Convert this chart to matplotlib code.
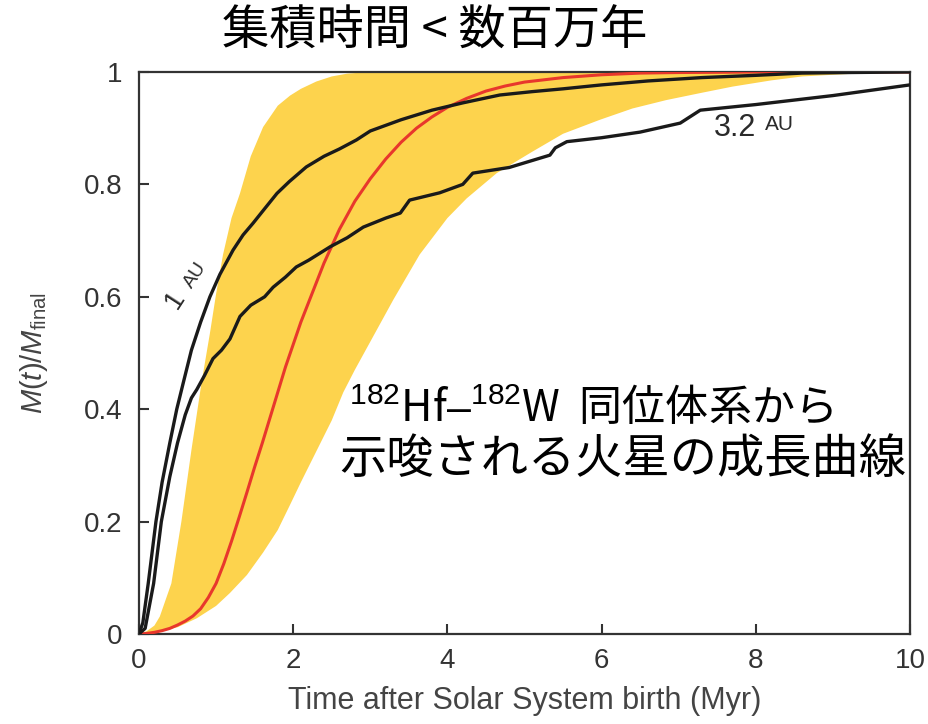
import numpy as np
import matplotlib
matplotlib.use("Agg")
import matplotlib.pyplot as plt

plt.rcParams["mathtext.fontset"] = "custom"
plt.rcParams["mathtext.rm"] = "Liberation Sans"
plt.rcParams["mathtext.it"] = "Liberation Sans:italic"

# median growth curve (red) from 182Hf-182W
red_x = [0, 0.1, 0.2, 0.3, 0.4, 0.5, 0.6, 0.7, 0.8, 0.9, 1.0, 1.1, 1.2, 1.3, 1.4,
         1.5, 1.6, 1.7, 1.8, 1.9, 2.0, 2.1, 2.2, 2.3, 2.4, 2.5, 2.6, 2.7, 2.8, 2.9,
         3.0, 3.2, 3.4, 3.6, 3.8, 4.0, 4.25, 4.5, 4.75, 5.0, 5.5, 6.0, 6.5, 7.0, 8.0, 10.0]
red_y = [0, 0.001, 0.003, 0.006, 0.01, 0.016, 0.023, 0.032, 0.045, 0.065, 0.09,
         0.125, 0.165, 0.208, 0.252, 0.297, 0.34, 0.385, 0.43, 0.475, 0.515, 0.555,
         0.59, 0.625, 0.66, 0.69, 0.72, 0.745, 0.77, 0.79, 0.81, 0.845, 0.875, 0.9,
         0.92, 0.937, 0.953, 0.966, 0.975, 0.982, 0.99, 0.995, 0.998, 0.999, 1.0, 1.0]

# yellow band edges
upper_x = [0, 0.1, 0.2, 0.27, 0.42, 0.55, 0.68, 0.81, 0.92, 1.0, 1.09, 1.2, 1.31,
           1.45, 1.61, 1.8, 1.96, 2.1, 2.3, 2.5, 2.7, 3.0, 10]
upper_y = [0, 0.005, 0.015, 0.031, 0.09, 0.2, 0.327, 0.446, 0.535, 0.605, 0.675,
           0.74, 0.784, 0.85, 0.902, 0.94, 0.958, 0.97, 0.983, 0.992, 0.997, 1.0, 1.0]
lower_x = [0, 0.14, 0.5, 0.75, 1.0, 1.18, 1.4, 1.61, 1.8, 1.96, 2.1, 2.3, 2.5, 2.65,
           2.8, 3.0, 3.3, 3.64, 4.0, 4.25, 4.64, 5.1, 5.5, 5.98, 6.4, 6.84, 7.3, 7.7,
           8.2, 8.6, 9.0, 9.44, 10]
lower_y = [0, 0.002, 0.012, 0.028, 0.05, 0.073, 0.105, 0.145, 0.185, 0.23, 0.27,
           0.325, 0.38, 0.43, 0.47, 0.52, 0.595, 0.675, 0.74, 0.775, 0.82, 0.858,
           0.89, 0.915, 0.935, 0.95, 0.963, 0.974, 0.985, 0.992, 0.995, 0.998, 1.0]

# simulated embryo growth, 1 AU
au1_x = [0, 0.05, 0.12, 0.22, 0.3, 0.4, 0.49, 0.58, 0.68, 0.8, 0.92, 1.05, 1.22,
         1.35, 1.48, 1.62, 1.79, 1.95, 2.17, 2.4, 2.6, 2.82, 3.0, 3.4, 3.8, 4.2,
         4.68, 5.1, 5.5, 6.0, 6.6, 7.3, 8.0, 8.6, 9.2, 10]
au1_y = [0, 0.02, 0.09, 0.2, 0.27, 0.34, 0.4, 0.45, 0.505, 0.555, 0.6, 0.64, 0.683,
         0.71, 0.731, 0.755, 0.784, 0.805, 0.831, 0.85, 0.863, 0.879, 0.895, 0.915,
         0.932, 0.945, 0.959, 0.965, 0.97, 0.977, 0.984, 0.99, 0.994, 0.998, 0.999, 1.0]

# simulated embryo growth, 3.2 AU
au32_x = [0, 0.08, 0.19, 0.29, 0.4, 0.5, 0.6, 0.68, 0.75, 0.85, 0.96, 1.07, 1.18,
          1.31, 1.45, 1.63, 1.74, 1.9, 2.04, 2.2, 2.48, 2.7, 2.91, 3.2, 3.39, 3.51,
          3.9, 4.2, 4.33, 4.8, 5.33, 5.4, 5.55, 6.0, 6.5, 7.02, 7.28, 8.0, 9.0, 10]
au32_y = [0, 0.01, 0.09, 0.2, 0.28, 0.34, 0.39, 0.42, 0.435, 0.46, 0.49, 0.505,
          0.525, 0.565, 0.585, 0.6, 0.617, 0.635, 0.653, 0.665, 0.689, 0.705, 0.724,
          0.74, 0.749, 0.772, 0.785, 0.80, 0.82, 0.83, 0.852, 0.865, 0.876, 0.883,
          0.893, 0.909, 0.932, 0.942, 0.958, 0.977]

xticks = [0, 2, 4, 6, 8, 10]
yticks = [0, 0.2, 0.4, 0.6, 0.8, 1]
ytick_labels = ["0", "0.2", "0.4", "0.6", "0.8", "1"]

cjk = ["Noto Sans CJK JP", "DejaVu Sans"]

fig = plt.figure(figsize=(9.29, 7.24), dpi=100)
ax = fig.add_axes([0.1496, 0.1243, 0.8299, 0.7763])

band_x = np.concatenate([upper_x, lower_x[::-1]])
band_y = np.concatenate([upper_y, lower_y[::-1]])
ax.fill(band_x, band_y, color="#fdd34d", lw=0, zorder=1)
ax.plot(red_x, red_y, color="#e8372c", lw=2.2, zorder=3)
ax.plot(au1_x, au1_y, color="#1a1a1a", lw=2.4, zorder=4)
ax.plot(au32_x, au32_y, color="#1a1a1a", lw=2.4, zorder=4)

ax.set_xlim(0, 10)
ax.set_ylim(0, 1)
ax.set_xticks(xticks)
ax.set_xticklabels([str(t) for t in xticks])
ax.set_yticks(yticks)
ax.set_yticklabels(ytick_labels)
ax.tick_params(direction="in", length=7, width=1.5, colors="#333333",
               labelsize=20)
ax.tick_params(axis="x", pad=10)
ax.tick_params(axis="y", pad=12)
for lab in ax.get_xticklabels() + ax.get_yticklabels():
    lab.set_family("Liberation Sans")
for sp in ax.spines.values():
    sp.set_linewidth(1.6)
    sp.set_color("#333333")

ax.set_xlabel("Time after Solar System birth (Myr)", family="Liberation Sans",
              fontsize=22, color="#444444", labelpad=9)
ax.set_ylabel(r"$M(t)/M_{\mathrm{final}}$", fontsize=21, color="#444444",
              labelpad=24)

# curve labels
ax.text(0.47, 0.594, "1", rotation=57, fontsize=20, color="#2a2a2a",
        family="Liberation Sans", ha="center", va="center")
ax.text(0.73, 0.638, "AU", rotation=57, fontsize=14, color="#2a2a2a",
        family="Liberation Sans", ha="center", va="center")
ax.text(7.45, 0.9, "3.2", fontsize=22, color="#2a2a2a",
        family="Liberation Sans", ha="left", va="center")
ax.text(8.12, 0.906, "AU", fontsize=15, color="#2a2a2a",
        family="Liberation Sans", ha="left", va="center")

# Japanese annotations
fig.text(0.468, 0.957, "集積時間 < 数百万年", family=cjk, fontsize=34,
         ha="center", va="center")
ax.text(2.73, 0.40, r"$^{182}$Hf$\mathrm{–}^{182}$W  同位体系から", family=cjk,
        fontsize=31, ha="left", va="center")
ax.text(2.6, 0.31, "示唆される火星の成長曲線", family=cjk, fontsize=34,
        ha="left", va="center")

fig.savefig("out.png", dpi=100)
